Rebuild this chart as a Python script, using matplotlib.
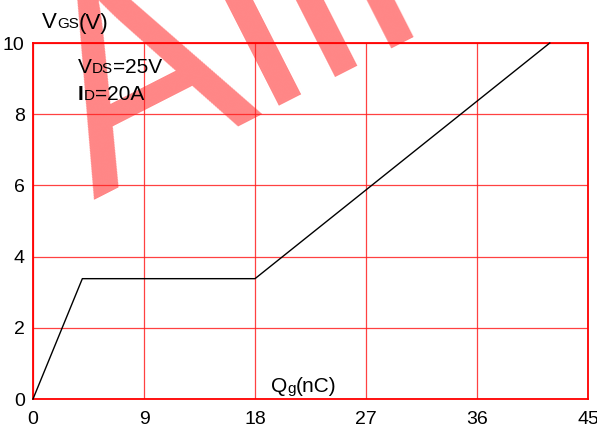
import matplotlib
matplotlib.use("Agg")
import matplotlib.pyplot as plt

# Gate charge characteristic
qg_nc = [0.0, 4.0, 18.0, 41.9]
vgs_v = [0.0, 3.38, 3.38, 10.0]

x_ticks = [0, 9, 18, 27, 36, 45]
y_ticks = [0, 2, 4, 6, 8, 10]

FONT = "Liberation Sans"
W, H = 597, 430

fig = plt.figure(figsize=(W / 100, H / 100), dpi=100)
fig.patch.set_facecolor("white")
ax = fig.add_axes([33 / W, 31 / H, 555 / W, 356 / H])
ax.patch.set_alpha(0)

# Watermark behind the chart
fig.text(93 / W, (H - 200) / H, "Alll", fontsize=205, family=FONT,
         rotation=27, rotation_mode="anchor", ha="left", va="baseline",
         color="#ff8686", zorder=-1)

ax.plot(qg_nc, vgs_v, color="black", lw=1.0, zorder=3, clip_on=False)

ax.set_xlim(0, 45)
ax.set_ylim(0, 10)
ax.set_xticks(x_ticks)
ax.set_yticks(y_ticks)
ax.grid(True, color="#ff2020", lw=0.9, alpha=0.85)
ax.set_axisbelow(True)
for sp in ax.spines.values():
    sp.set_color("#ff0000")
    sp.set_linewidth(1.3)
ax.tick_params(length=0, labelsize=14, pad=6)
ax.tick_params(axis="x", pad=9)
for lab in ax.get_xticklabels() + ax.get_yticklabels():
    lab.set_family(FONT)


def label_run(x, y_top, pieces):
    """Write text pieces one after another on a common baseline (pixels)."""
    y = H - y_top
    prev = None
    for s, size, weight in pieces:
        if prev is None:
            prev = ax.annotate(s, xy=(x, y), xycoords="figure pixels",
                               fontsize=size, fontweight=weight, family=FONT,
                               ha="left", va="baseline", annotation_clip=False,
                               zorder=5)
        else:
            prev = ax.annotate(s, xy=(1, y), xycoords=(prev, "figure pixels"),
                               fontsize=size, fontweight=weight, family=FONT,
                               ha="left", va="baseline", annotation_clip=False,
                               zorder=5)


label_run(42, 28.5, [("V", 16, "normal"), ("GS", 11, "normal"), ("(V)", 16, "normal")])
label_run(78, 73.3, [("V", 15, "normal"), ("DS", 11, "normal"), ("=25V", 15, "normal")])
label_run(78, 99.5, [("I", 15, "bold"), ("D", 11, "normal"), ("=20A", 15, "normal")])
label_run(271, 392.5, [("Q", 15, "normal"), ("g", 11, "normal"), ("(nC)", 15, "normal")])

fig.savefig("out.png", dpi=100)
